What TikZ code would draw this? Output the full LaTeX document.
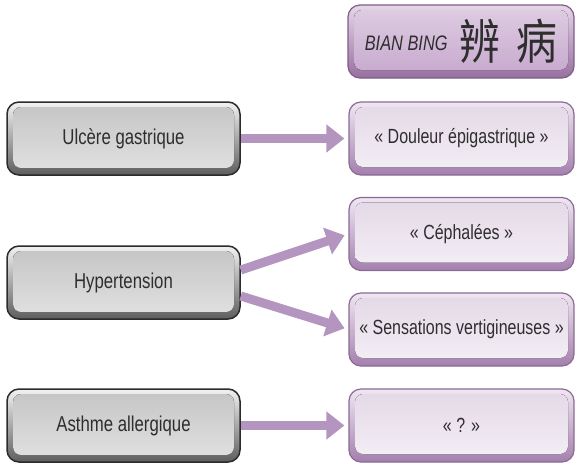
\documentclass[tikz,border=0pt]{standalone}
\usepackage{fontspec}
\setmainfont{Liberation Sans}[FakeStretch=0.78]
\newfontfamily\cjk{Noto Sans CJK SC}[FakeStretch=0.85]
\usetikzlibrary{arrows.meta}
\definecolor{txt}{HTML}{2E2E2E}
\definecolor{lborder}{HTML}{2B2B2B}
\definecolor{lrimtop}{HTML}{F2F2F2}
\definecolor{lrimbot}{HTML}{5E5E5E}
\definecolor{lfacetop}{HTML}{C4C4C4}
\definecolor{lfacebot}{HTML}{E2E2E2}
\definecolor{rborder}{HTML}{8A6A93}
\definecolor{rrimtop}{HTML}{F0E7F2}
\definecolor{rrimbot}{HTML}{A47FAE}
\definecolor{rfacetop}{HTML}{E4D8E7}
\definecolor{rfacebot}{HTML}{F4EFF5}
\definecolor{tborder}{HTML}{7E5C88}
\definecolor{trimtop}{HTML}{E6D6E9}
\definecolor{trimbot}{HTML}{97709F}
\definecolor{tfacetop}{HTML}{DFCEE3}
\definecolor{tfacebot}{HTML}{C6A7CD}
\definecolor{arrowc}{HTML}{B395BF}
\tikzset{
  boxbase/.style={minimum height=73pt, rounded corners=12pt, inner sep=0pt,
    text=txt, font=\fontsize{20.5}{24}\selectfont},
  gbox/.style={boxbase, minimum width=233pt, draw=lborder, line width=1.5pt,
    top color=lrimtop, bottom color=lrimbot, font=\fontsize{21.5}{24}\selectfont,
    path picture={\fill[rounded corners=8pt, top color=lfacetop, bottom color=lfacebot]
      ([shift={(6pt,-5pt)}]path picture bounding box.north west) rectangle
      ([shift={(-6pt,7pt)}]path picture bounding box.south east);}},
  pbox/.style={boxbase, minimum width=225pt, draw=rborder, line width=1.2pt,
    top color=rrimtop, bottom color=rrimbot,
    path picture={\fill[rounded corners=8pt, top color=rfacetop, bottom color=rfacebot]
      ([shift={(6pt,-5pt)}]path picture bounding box.north west) rectangle
      ([shift={(-6pt,8pt)}]path picture bounding box.south east);}},
  tbox/.style={boxbase, minimum width=226pt, draw=tborder, line width=1.2pt,
    top color=trimtop, bottom color=trimbot,
    path picture={\fill[rounded corners=8pt, top color=tfacetop, bottom color=tfacebot]
      ([shift={(6pt,-5pt)}]path picture bounding box.north west) rectangle
      ([shift={(-6pt,8pt)}]path picture bounding box.south east);}},
  arr/.style={draw=arrowc, line width=9pt, -{Triangle[length=18pt,width=27pt]},
    shorten >=4pt}
}
\begin{document}
\begin{tikzpicture}[x=1pt,y=-1pt]
\useasboundingbox (0,0) rectangle (575,464);
% nodes
\node[tbox] (title) at (461,41.5)
  {\raisebox{9pt}{\fontsize{21}{24}\selectfont\itshape BIAN BING}\hspace{12pt}{\cjk\fontsize{48}{50}\selectfont 辨\hspace{16pt}病}};
\node[gbox] (ulc) at (123.5,138.5) {Ulcère gastrique};
\node[pbox] (dou) at (461.5,138.5) {« Douleur épigastrique »};
\node[pbox] (ceph) at (461.5,234) {« Céphalées »};
\node[gbox] (hyp) at (123.5,282.5) {Hypertension};
\node[pbox] (sens) at (461.5,329.5) {« Sensations vertigineuses »};
\node[gbox] (ast) at (123.5,425.5) {Asthme allergique};
\node[pbox] (q) at (461.5,425.5) {« ? »};
% connectors
\draw[arr] (ulc.east) -- (dou.west);
\draw[arr] ([yshift=12.5pt]hyp.east) -- (ceph.west);
\draw[arr] ([yshift=-13.5pt]hyp.east) -- (sens.west);
\draw[arr] (ast.east) -- (q.west);
\end{tikzpicture}
\end{document}
